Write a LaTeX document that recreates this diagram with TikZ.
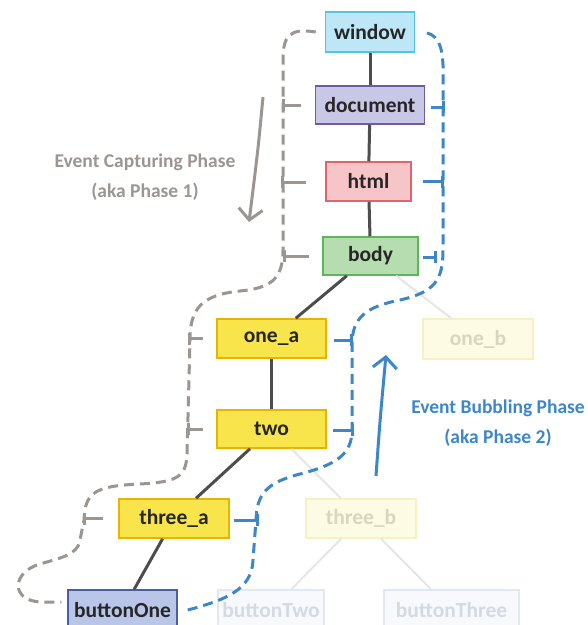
\documentclass[tikz,border=0pt]{standalone}
\usepackage{fontspec}
\setmainfont{Carlito}
\usetikzlibrary{arrows.meta}
\definecolor{treeln}{HTML}{4D4D4D}
\definecolor{fadeln}{HTML}{E6E6E6}
\definecolor{captc}{HTML}{9B9691}
\definecolor{bubc}{HTML}{3D87C9}
\definecolor{winF}{HTML}{BDE7F7}\definecolor{winD}{HTML}{52C4E8}
\definecolor{docF}{HTML}{C9C7E6}\definecolor{docD}{HTML}{6A5DA6}
\definecolor{htmF}{HTML}{F7C4C7}\definecolor{htmD}{HTML}{E0646D}
\definecolor{bodF}{HTML}{B5DDAF}\definecolor{bodD}{HTML}{5DB65A}
\definecolor{yelF}{HTML}{F8E54B}\definecolor{yelD}{HTML}{E8B400}
\definecolor{btnF}{HTML}{B9C6E8}\definecolor{btnD}{HTML}{4A5DA6}
\definecolor{fyF}{HTML}{FDFBE4}\definecolor{fyD}{HTML}{F6F0C4}\definecolor{fyT}{HTML}{D9D5C0}
\definecolor{fbF}{HTML}{F7F9FC}\definecolor{fbD}{HTML}{E2E8F2}\definecolor{fbT}{HTML}{D4DAE4}
\tikzset{
  elem/.style={draw, line width=1.5pt, inner sep=0pt, text=black!85,
    font=\fontsize{21.5}{22}\selectfont\bfseries},
  tline/.style={draw=treeln, line width=3pt},
  fline/.style={draw=fadeln, line width=2pt},
  capt/.style={draw=captc, line width=3pt, dash pattern=on 10pt off 6pt},
  bub/.style={draw=bubc, line width=3pt, dash pattern=on 10pt off 6pt},
  gtick/.style={draw=captc, line width=3pt, -{Bar[width=12pt,line width=3pt]}},
  btick/.style={draw=bubc, line width=3pt, -{Bar[width=12pt,line width=3pt]}},
  lbl/.style={align=center, font=\fontsize{19.5}{30}\selectfont\bfseries},
  phasearrow/.style={line width=3pt, -{Straight Barb[length=11pt,width=24pt,line width=3pt]}}
}
\begin{document}
\begin{tikzpicture}[x=1pt,y=-1pt]
\useasboundingbox (0,0) rectangle (588,625);
\fill[white] (0,0) rectangle (588,625);
% nodes
\node[elem, fill=winF, draw=winD, minimum width=89pt, minimum height=40pt] (window) at (370,32) {window};
\node[elem, fill=docF, draw=docD, minimum width=109pt, minimum height=38pt] (document) at (370,105) {document};
\node[elem, fill=htmF, draw=htmD, minimum width=85pt, minimum height=39pt] (html) at (368.5,181.5) {html};
\node[elem, fill=bodF, draw=bodD, minimum width=95pt, minimum height=38pt] (body) at (370.5,256) {body};
\node[elem, fill=yelF, draw=yelD, minimum width=109pt, minimum height=39pt] (onea) at (271.5,338.5) {one\_a};
\node[elem, fill=yelF, draw=yelD, minimum width=109pt, minimum height=38pt] (two) at (271.5,429) {two};
\node[elem, fill=fyF, draw=fyD, text=fyT, minimum width=110pt, minimum height=40pt] (oneb) at (478,339) {one\_b};
\node[elem, fill=yelF, draw=yelD, minimum width=110pt, minimum height=39pt] (threea) at (174,518.5) {three\_a};
\node[elem, fill=fyF, draw=fyD, text=fyT, minimum width=110pt, minimum height=39pt] (threeb) at (361,518.5) {three\_b};
\node[elem, fill=btnF, draw=btnD, minimum width=109pt, minimum height=40pt] (btnone) at (122.5,610) {buttonOne};
\node[elem, fill=fbF, draw=fbD, text=fbT, minimum width=106pt, minimum height=40pt] (btntwo) at (271,610) {buttonTwo};
\node[elem, fill=fbF, draw=fbD, text=fbT, minimum width=135pt, minimum height=40pt] (btnthree) at (451.5,610) {buttonThree};
% tree
\draw[tline] (window) -- (document);
\draw[tline] (document) -- (html);
\draw[tline] (html) -- (body);
\draw[tline] (body) -- (onea);
\draw[fline] (body) -- (oneb);
\draw[tline] (onea) -- (two);
\draw[tline] (two) -- (threea);
\draw[fline] (two) -- (threeb);
\draw[tline] (threea) -- (btnone);
\draw[fline] (threeb) -- (btntwo);
\draw[fline] (threeb) -- (btnthree);
% capturing path
\draw[capt] ([xshift=-9pt]window.west) .. controls (290,28) and (283,35) .. (283,60)
  -- (283,250) .. controls (283,280) and (270,288) .. (240,291)
  .. controls (200,295) and (190,310) .. (190,340)
  -- (187,455) .. controls (186,478) and (175,482) .. (140,484)
  .. controls (95,486) and (85,492) .. (84,520)
  -- (80,540) .. controls (78,555) and (60,558) .. (40,564)
  .. controls (12,572) and (10,600) .. (40,602)
  -- ([xshift=-6pt,yshift=8pt]btnone.west);
\draw[gtick] ([xshift=-14pt]document.west) -- ([xshift=-33pt]document.west);
\draw[gtick] ([xshift=-19pt,yshift=-0.5pt]html.west) -- ([xshift=-44pt,yshift=-0.5pt]html.west);
\draw[gtick] ([xshift=-13pt]body.west) -- ([xshift=-39pt]body.west);
\draw[gtick] ([xshift=-13pt]onea.west) -- ([xshift=-28pt]onea.west);
\draw[gtick] ([xshift=-13pt]two.west) -- ([xshift=-29pt]two.west);
\draw[gtick] ([xshift=-15pt]threea.west) -- ([xshift=-35pt]threea.west);
% bubbling path
\draw[bub] ([xshift=10pt]btnone.east) .. controls (225,600) and (252,590) .. (253,560)
  -- (256,520) .. controls (257,495) and (265,483) .. (300,474)
  .. controls (335,465) and (352,455) .. (352,430)
  -- (352,345) .. controls (352,318) and (365,307) .. (400,300)
  .. controls (435,292) and (443,280) .. (443,250)
  -- (443,65) .. controls (442,45) and (438,33) .. ([xshift=6pt]window.east);
\draw[btick] ([xshift=6pt,yshift=-2pt]document.east) -- ([xshift=20pt,yshift=-2pt]document.east);
\draw[btick] ([xshift=11pt]html.east) -- ([xshift=32pt]html.east);
\draw[btick] ([xshift=4pt,yshift=-1pt]body.east) -- ([xshift=18pt,yshift=-1pt]body.east);
\draw[btick] ([xshift=7pt,yshift=-1.5pt]onea.east) -- ([xshift=26pt,yshift=-1.5pt]onea.east);
\draw[btick] ([xshift=6pt,yshift=-1pt]two.east) -- ([xshift=27pt,yshift=-1pt]two.east);
\draw[btick] ([xshift=4pt,yshift=-1.5pt]threea.east) -- ([xshift=29pt,yshift=-1.5pt]threea.east);
% labels and arrows
\node[lbl, text=captc] (captlbl) at (145,177) {Event Capturing Phase\\(aka Phase 1)};
\node[lbl, text=bubc] (bublbl) at (498,423) {Event Bubbling Phase\\(aka Phase 2)};
\coordinate (ca1) at (263,97);
\coordinate (ca2) at (249,222);
\draw[phasearrow, draw=captc] (ca1) .. controls (258,150) .. (ca2);
\coordinate (ba1) at (376,476);
\coordinate (ba2) at (386,355);
\draw[phasearrow, draw=bubc] (ba1) .. controls (380,420) .. (ba2);
\end{tikzpicture}
\end{document}
